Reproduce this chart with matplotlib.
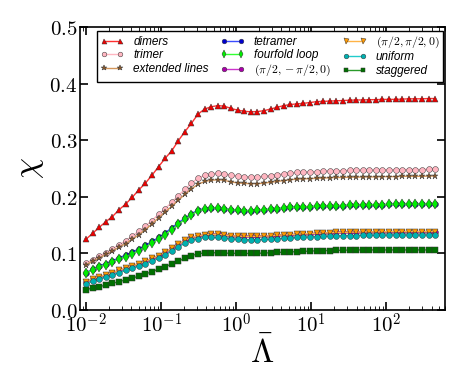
import numpy as np
import matplotlib
matplotlib.use("Agg")
import matplotlib.pyplot as plt
from matplotlib.ticker import FuncFormatter, MultipleLocator, LogLocator, NullFormatter

plt.rcParams['mathtext.fontset'] = 'cm'
plt.rcParams['font.family'] = ['DejaVu Sans']

lam = np.logspace(-2, 2.65, 54)

dimers = [0.125, 0.1355, 0.146, 0.156, 0.165, 0.177, 0.187, 0.199, 0.212, 0.224,
          0.238, 0.253, 0.268, 0.281, 0.299, 0.315, 0.330, 0.346, 0.355, 0.359,
          0.361, 0.360, 0.356, 0.353, 0.351, 0.350, 0.3505, 0.352, 0.355, 0.358,
          0.361, 0.363, 0.364, 0.365, 0.3665, 0.368, 0.3685, 0.369, 0.3695, 0.370,
          0.3705, 0.371, 0.371, 0.3715, 0.3715, 0.372, 0.372, 0.372, 0.3725, 0.373,
          0.373, 0.373, 0.3735, 0.3735]
trimer = [0.0825, 0.089, 0.095, 0.101, 0.108, 0.115, 0.122, 0.1305, 0.139, 0.148,
          0.158, 0.169, 0.179, 0.190, 0.202, 0.213, 0.224, 0.233, 0.238, 0.240,
          0.2415, 0.2405, 0.238, 0.2365, 0.2355, 0.235, 0.235, 0.236, 0.2375, 0.239,
          0.2405, 0.242, 0.243, 0.2435, 0.244, 0.2445, 0.245, 0.2455, 0.246, 0.246,
          0.2465, 0.2465, 0.247, 0.247, 0.247, 0.2475, 0.2475, 0.2475, 0.248, 0.248,
          0.248, 0.248, 0.2485, 0.2485]
extended = [0.080, 0.086, 0.092, 0.098, 0.104, 0.111, 0.117, 0.125, 0.133, 0.142,
            0.152, 0.163, 0.173, 0.183, 0.194, 0.204, 0.214, 0.222, 0.227, 0.229,
            0.230, 0.229, 0.226, 0.2245, 0.2235, 0.223, 0.223, 0.224, 0.2255, 0.227,
            0.2285, 0.230, 0.231, 0.2315, 0.232, 0.2325, 0.233, 0.2335, 0.234, 0.234,
            0.2345, 0.2345, 0.235, 0.235, 0.235, 0.2355, 0.2355, 0.2355, 0.236, 0.236,
            0.236, 0.236, 0.2365, 0.2365]
tetramer = [0.066, 0.072, 0.078, 0.082, 0.087, 0.092, 0.097, 0.102, 0.108, 0.114,
            0.121, 0.128, 0.136, 0.145, 0.154, 0.162, 0.170, 0.1765, 0.179, 0.1805,
            0.180, 0.1785, 0.177, 0.176, 0.1755, 0.1755, 0.176, 0.177, 0.178, 0.179,
            0.180, 0.181, 0.1815, 0.182, 0.1825, 0.183, 0.1835, 0.184, 0.184, 0.1845,
            0.185, 0.185, 0.1855, 0.186, 0.186, 0.186, 0.1865, 0.1865, 0.187, 0.187,
            0.187, 0.187, 0.1873, 0.1873]
fourfold = [0.065, 0.071, 0.0765, 0.080, 0.085, 0.0895, 0.094, 0.099, 0.105, 0.111,
            0.118, 0.125, 0.133, 0.142, 0.151, 0.160, 0.168, 0.175, 0.178, 0.180,
            0.180, 0.1785, 0.177, 0.176, 0.1755, 0.1755, 0.176, 0.177, 0.178, 0.179,
            0.180, 0.181, 0.1815, 0.182, 0.1825, 0.183, 0.1835, 0.184, 0.184, 0.1845,
            0.185, 0.185, 0.1855, 0.186, 0.186, 0.186, 0.1865, 0.1865, 0.187, 0.187,
            0.187, 0.187, 0.1873, 0.1873]
pi_mpi = [0.050, 0.055, 0.059, 0.062, 0.066, 0.070, 0.074, 0.078, 0.082, 0.086,
          0.091, 0.096, 0.102, 0.109, 0.116, 0.123, 0.128, 0.131, 0.133, 0.1335,
          0.1335, 0.1325, 0.131, 0.1305, 0.130, 0.130, 0.130, 0.1305, 0.131, 0.132,
          0.1325, 0.133, 0.134, 0.1345, 0.135, 0.1355, 0.136, 0.1365, 0.137, 0.137,
          0.1375, 0.1375, 0.138, 0.138, 0.138, 0.138, 0.1385, 0.1385, 0.1385, 0.1385,
          0.1385, 0.1385, 0.1385, 0.1385]
pi_pi = pi_mpi
uniform = [0.046, 0.051, 0.055, 0.058, 0.062, 0.066, 0.070, 0.074, 0.078, 0.0815,
           0.086, 0.091, 0.097, 0.104, 0.111, 0.118, 0.123, 0.126, 0.128, 0.128,
           0.128, 0.127, 0.1255, 0.125, 0.124, 0.124, 0.124, 0.1245, 0.125, 0.126,
           0.1265, 0.127, 0.128, 0.1285, 0.129, 0.1295, 0.130, 0.1305, 0.131, 0.131,
           0.1315, 0.1315, 0.132, 0.132, 0.132, 0.132, 0.1325, 0.1325, 0.1325, 0.1325,
           0.1325, 0.1325, 0.1325, 0.1325]
staggered = [0.0355, 0.039, 0.041, 0.044, 0.047, 0.050, 0.053, 0.056, 0.060, 0.0635,
             0.0675, 0.072, 0.0765, 0.081, 0.0865, 0.091, 0.096, 0.099, 0.101, 0.101,
             0.101, 0.1005, 0.100, 0.100, 0.0998, 0.0998, 0.100, 0.1005, 0.101, 0.1015,
             0.102, 0.1025, 0.103, 0.1035, 0.104, 0.1045, 0.1048, 0.105, 0.1052, 0.1055,
             0.1057, 0.106, 0.106, 0.106, 0.106, 0.106, 0.106, 0.106, 0.106, 0.106,
             0.106, 0.106, 0.106, 0.106]

labels = ['dimers', 'trimer', 'extended lines', 'tetramer', 'fourfold loop',
          r'$(\pi/2,-\pi/2,0)$', r'$(\pi/2,\pi/2,0)$', 'uniform', 'staggered']
series = [dimers, trimer, extended, tetramer, fourfold, pi_mpi, pi_pi, uniform, staggered]
line_colors = ['#ff3030', '#ffb6c1', '#d2955a', '#3a4cff', '#33ff33', '#cc33cc', '#ffb347', '#22cccc', '#2a9a2a']
face_colors = ['#ee0000', '#ffb6c1', '#8b5a2b', '#0000cc', '#00ee00', '#aa00aa', '#ff9900', '#00b0b0', '#007000']
markers = ['^', 'o', '*', 'o', 'd', 'o', 'v', 'o', 's']
msizes = [4.5, 4.2, 5, 4.2, 4.8, 4.2, 4.5, 4.2, 4.2]

fig = plt.figure(figsize=(4.63, 3.85), dpi=100)
ax = fig.add_axes([0.173, 0.195, 0.788, 0.735])

for y, lab, lc, fc, mk, ms in zip(series, labels, line_colors, face_colors, markers, msizes):
    ax.plot(lam, y, color=lc, lw=1.0, marker=mk, ms=ms, mfc=fc, mec='#333333', mew=0.35,
            label=lab)

ax.set_xscale('log')
ax.set_xlim(10**-2.08, 10**2.78)
ax.set_ylim(0, 0.5)
ax.yaxis.set_major_locator(MultipleLocator(0.1))
ax.yaxis.set_major_formatter(FuncFormatter(lambda v, p: r'$%.1f$' % v))
ax.xaxis.set_major_locator(LogLocator(base=10, numticks=10))
ax.xaxis.set_minor_locator(LogLocator(base=10, subs=np.arange(2, 10), numticks=20))
ax.xaxis.set_minor_formatter(NullFormatter())
ax.xaxis.set_major_formatter(FuncFormatter(lambda v, p: r'$10^{%d}$' % int(round(np.log10(v)))))
ax.tick_params(which='major', direction='in', length=6, width=1.2, top=True, right=True,
               labelsize=15, pad=2)
ax.tick_params(which='minor', direction='in', length=3, width=0.6, top=True, right=True)
for s in ax.spines.values():
    s.set_linewidth(1.2)

ax.set_xlabel(r'$\bar{\Lambda}$', fontsize=24, labelpad=0)
ax.set_ylabel(r'$\chi$', fontsize=24, labelpad=2)

leg = ax.legend(ncol=3, loc='upper left', bbox_to_anchor=(0.045, 0.985, 0.95, 0.0),
                mode='expand', prop={'style': 'italic', 'family': 'Liberation Sans', 'size': 8.5},
                handlelength=2.0, handletextpad=0.8, columnspacing=0.5, markerscale=0.8,
                labelspacing=0.12, borderpad=0.3, fancybox=False, framealpha=1,
                edgecolor='black', numpoints=2, borderaxespad=0.0)
leg.get_frame().set_linewidth(1.0)

fig.savefig('out.png', dpi=100)
